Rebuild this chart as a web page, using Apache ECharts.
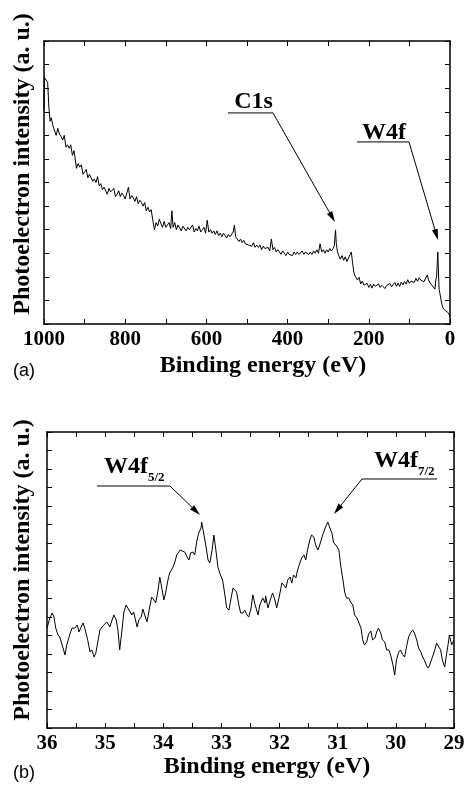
<!DOCTYPE html>
<html><head><meta charset="utf-8">
<script src="https://cdn.jsdelivr.net/npm/echarts@6/dist/echarts.min.js"></script>
<style>html,body{margin:0;padding:0;background:#fff}#c{width:469px;height:787px}</style>
</head><body><div id="c"></div>
<script>
// ---- (a) survey spectrum ----
const surveyEnergy = [1000,999,995,991,988,985,982,978,974,970,966,962,958,954,950,946,942,938,934,930,926,922,920,916,912,908,904,900,896,892,888,884,880,876,872,868,864,860,856,852,848,844,840,836,832,828,824,820,816,812,808,804,800,796,792,788,784,780,776,772,768,764,760,756,752,748,744,740,736,732,728,724,720,716,712,708,704,700,696,692,688,685,682,678,674,670,666,662,658,654,650,646,642,638,634,630,626,622,618,614,610,606,602,598,594,590,586,582,578,574,570,566,562,558,554,550,546,542,538,534,531,528,524,520,516,512,508,504,500,496,492,488,484,480,476,472,468,464,460,456,452,448,444,440,436,432,428,424,420,416,412,408,404,400,396,392,388,384,380,376,372,368,364,360,356,352,348,344,340,336,332,328,324,320,316,312,308,304,300,296,292,288,285,282,280,277,274,270,266,262,258,254,250,246,243,240,237,234,231,228,224,220,216,212,208,204,200,196,192,188,184,180,176,172,168,164,160,156,152,148,144,140,136,132,128,124,120,116,112,108,104,100,96,92,88,84,80,76,72,68,64,60,56,53,49,45,41,37,35,33,31,30,29,27,25,22,19,16,13,10,7,4,1,0];
const surveyIntensity = [91,104.5,105,102.5,92,86,
87.5,84,84.5,80,83,80.5,79.5,78,80,75,76,74.5,76,71.5,73.5,74,
66,
68,66.5,67.5,63.5,64.5,65.5,62,63.5,64,60.5,61.5,60,62.5,58.5,59.5,57,58,57.5,55,57.5,56,55.5,57.5,54,55,56.5,54,55.5,54.5,53,55.5,58,53,54.5,53.5,52,54,51,52.5,51.5,50,51.5,48,49.5,47.5,48.5,
44,40,
43,41.5,44.5,42.5,41,43.5,41,42,43,40.5,48,41,43,40,42,41.5,39.5,41.5,42,39.5,41,40,40.5,42,39,40.5,39.5,41.5,39,40,41,38.5,44,39,40,38.5,39.5,38,39.5,37.5,38.5,37,38.5,37.5,36.5,38,37,37.5,39,42,37,37.5,35,36,34.5,35.5,34,34.5,33.5,34,33,34.5,32.5,33.5,32.5,33.5,31.5,33,32,31.5,32.5,31,36,31.5,32.5,30.5,31.5,30.5,29.5,31,30,29,30.5,29.5,30,29,30.5,29.5,30.5,29.5,30,31,29.5,30.5,31,29.5,30.5,29.5,31,30,31.5,30,34,30.5,31.5,30,31.5,30.5,32,31,32,
33,39.9,34,30.5,29,27.5,29,27,28.5,26.5,28,29.5,30.5,26,22,20.4,20.8,
18.7,19.8,17,18.2,16.5,16,17.2,15.5,16.8,15.2,16.9,16,15.4,17,15.5,16.4,16.8,15,16.3,15.5,17.2,15.8,16.2,17.6,16,17.3,15.9,17.8,16.6,18,16.9,18.8,17.2,18.2,19,17.6,19.4,18.1,19.6,18.6,19.3,17.9,19.5,
20.8,18.7,17.4,16.5,17,14.8,18.7,20,27,30.5,25,14.8,13.1,10.2,7.6,6.4,5.9,5.5,5.1,4.7,4.2,3.4];
const surveyTickLabels = [1000, 800, 600, 400, 200, 0];

// ---- (b) W4f region ----
const w4fEnergy = [36.00,35.98,35.95,35.91,35.88,35.85,35.81,35.78,35.74,35.69,35.66,35.60,35.57,35.52,35.48,35.45,35.42,35.38,35.35,35.30,35.26,35.23,35.19,35.16,35.12,35.09,35.04,34.97,34.92,34.88,34.85,34.81,34.78,34.75,34.71,34.68,34.64,34.59,34.54,34.51,34.45,34.42,34.38,34.35,34.32,34.28,34.25,34.20,34.16,34.13,34.09,34.06,34.02,33.99,33.96,33.92,33.89,33.84,33.80,33.77,33.71,33.68,33.63,33.59,33.56,33.53,33.49,33.46,33.42,33.39,33.35,33.34,33.30,33.27,33.23,33.20,33.16,33.13,33.10,33.06,33.03,32.98,32.94,32.91,32.87,32.84,32.80,32.77,32.74,32.70,32.67,32.63,32.60,32.56,32.53,32.49,32.46,32.42,32.37,32.34,32.29,32.25,32.24,32.20,32.15,32.12,32.08,32.05,32.01,31.96,31.93,31.89,31.86,31.82,31.79,31.76,31.72,31.69,31.65,31.62,31.58,31.55,31.52,31.48,31.45,31.41,31.38,31.34,31.31,31.27,31.24,31.21,31.17,31.14,31.10,31.07,31.03,30.98,30.95,30.91,30.88,30.85,30.81,30.78,30.74,30.71,30.67,30.64,30.60,30.57,30.54,30.50,30.47,30.43,30.40,30.36,30.33,30.30,30.26,30.23,30.19,30.16,30.12,30.09,30.05,30.02,29.99,29.95,29.92,29.88,29.85,29.81,29.78,29.75,29.71,29.68,29.64,29.61,29.57,29.54,29.51,29.47,29.44,29.40,29.37,29.33,29.30,29.27,29.23,29.20,29.16,29.13,29.09,29.08,29.04,29.00];
const w4fIntensity = [54.0,53.0,59.5,62.2,60.0,54.0,50.3,49.2,44.9,39.5,44.9,51.3,54.0,54.0,55.7,51.9,54.0,56.8,54.0,47.6,41.1,42.2,38.4,40.5,47.6,53.0,55.1,57.3,54.6,58.4,61.1,58.4,53.0,42.2,53.0,62.2,66.5,63.8,61.1,62.7,54.6,58.4,60.0,64.3,61.1,57.3,62.7,70.8,69.2,67.6,74.6,81.6,74.6,69.2,73.0,80.0,83.8,86.5,89.7,93.5,96.2,96.2,95.1,92.4,90.8,94.6,95.1,93.5,101.6,105.4,108.1,111.3,104.3,98.9,90.8,89.2,96.2,104.3,97.3,87.0,83.8,80.0,71.9,64.9,63.8,69.2,75.7,75.7,73.5,66.5,62.2,62.2,63.8,61.1,60.0,64.9,72.0,66.5,61.1,66.5,70.3,67.6,71.4,64.9,70.3,73.0,69.2,64.9,70.3,78.4,77.3,75.7,80.0,81.6,78.4,82.7,81.1,85.4,89.2,91.9,93.5,90.8,96.2,101.6,104.3,103.2,98.9,96.2,98.9,103.2,105.9,108.6,111.3,108.6,105.4,100.0,98.9,96.2,88.1,80.0,73.5,70.3,70.3,68.1,66.5,61.1,59.5,57.3,54.0,47.6,44.9,46.5,50.8,52.4,47.6,48.6,51.9,54.0,51.3,47.6,46.5,42.2,42.2,39.5,34.1,28.6,36.8,41.1,42.2,39.5,38.4,44.9,49.2,51.3,53.0,51.3,47.6,43.2,41.1,38.4,36.8,33.5,32.4,35.7,38.4,42.2,45.9,44.9,42.2,36.8,33.0,39.5,47.6,50.3,44.9,47.6];
const w4fTickLabels = [36, 35, 34, 33, 32, 31, 30, 29];

const texts = {
  xTitle: 'Binding energy (eV)',
  yTitle: 'Photoelectron intensity (a. u.)',
  panelA: '(a)', panelB: '(b)',
  c1s: 'C1s', w4f: 'W4f', w4f52: ['W4f', '5/2'], w4f72: ['W4f', '7/2']
};

const SERIF = '"Liberation Serif", "Times New Roman", serif';
const chart = echarts.init(document.getElementById('c'), null, {renderer: 'canvas'});

function xAxis(grid, pos, min, max, interval, labels, showLabel) {
  return {
    type: 'value', gridIndex: grid, position: pos, min: min, max: max, interval: interval, inverse: true,
    axisLine: {show: true, onZero: false, lineStyle: {color: '#000', width: 1.5}},
    axisTick: {show: true, inside: true, length: 5, lineStyle: {color: '#000', width: 1}},
    minorTick: {show: true, splitNumber: 2, length: 5, lineStyle: {color: '#000', width: 1}},
    splitLine: {show: false}, minorSplitLine: {show: false},
    axisLabel: {show: showLabel, showMinLabel: true, showMaxLabel: true, margin: 5, color: '#000',
      fontFamily: SERIF, fontWeight: 'bold', fontSize: 21,
      formatter: function (v) { return labels.indexOf(Math.round(v)) >= 0 ? String(Math.round(v)) : ''; }}
  };
}
function yAxis(grid, pos, max) {
  return {
    type: 'value', gridIndex: grid, position: pos, min: 0, max: max, interval: 10,
    axisLine: {show: true, onZero: false, lineStyle: {color: '#000', width: 1.5}},
    axisTick: {show: true, inside: true, length: 5, lineStyle: {color: '#000', width: 1}},
    splitLine: {show: false}, axisLabel: {show: false}
  };
}

const surveyData = surveyEnergy.map((e, i) => [e, surveyIntensity[i]]);
const w4fData = w4fEnergy.map((e, i) => [e, w4fIntensity[i]]);

chart.setOption({
  animation: false,
  backgroundColor: '#fff',
  grid: [
    {left: 44, top: 41, width: 406, height: 283},
    {left: 47, top: 432, width: 407, height: 296}
  ],
  xAxis: [
    xAxis(0, 'bottom', 0, 1000, 200, surveyTickLabels, true),
    xAxis(0, 'top', 0, 1000, 200, surveyTickLabels, false),
    xAxis(1, 'bottom', 29, 36, 1, w4fTickLabels, true),
    xAxis(1, 'top', 29, 36, 1, w4fTickLabels, false)
  ],
  yAxis: [
    yAxis(0, 'left', 120), yAxis(0, 'right', 120),
    yAxis(1, 'left', 160), yAxis(1, 'right', 160)
  ],
  series: [
    {type: 'line', xAxisIndex: 0, yAxisIndex: 0, data: surveyData, showSymbol: false, symbol: 'none',
      lineStyle: {color: '#000', width: 1}, silent: true},
    {type: 'line', xAxisIndex: 2, yAxisIndex: 2, data: w4fData, showSymbol: false, symbol: 'none',
      lineStyle: {color: '#000', width: 1}, silent: true}
  ]
});

// annotation anchors in data coordinates [energy, intensity]
const annA = [
  {label: texts.c1s, text: [484, 94.3], line: [[546.8, 89.5], [436, 89.5]], tip: [283.3, 43.2]},
  {label: texts.w4f, text: [162.6, 81.2], line: [[229.1, 77.2], [101, 77.2]], tip: [29.6, 35.6]}
];
const annB = [
  {label: texts.w4f52, text: [34.263, 141.3], sub: [34.263, 135.1], line: [[35.14, 130.8], [33.884, 130.8]], tip: [33.368, 115.1]},
  {label: texts.w4f72, text: [29.619, 144.6], sub: [29.619, 138.4], line: [[29.292, 134.6], [30.582, 134.6]], tip: [31.064, 115.7]}
];

const g = [];
function px(finder, p) { return chart.convertToPixel(finder, p); }
function arrow(s, t) {
  const dx = t[0] - s[0], dy = t[1] - s[1];
  const L = Math.sqrt(dx * dx + dy * dy), ux = dx / L, uy = dy / L;
  const hl = 11, hw = 3;
  const bx = t[0] - ux * hl, by = t[1] - uy * hl;
  g.push({type: 'line', shape: {x1: s[0], y1: s[1], x2: bx + ux * 2, y2: by + uy * 2}, style: {stroke: '#000', lineWidth: 1}, silent: true});
  g.push({type: 'polygon', shape: {points: [[t[0], t[1]], [bx - uy * hw, by + ux * hw], [bx + uy * hw, by - ux * hw]]}, style: {fill: '#000'}, silent: true});
}
const fA = {xAxisIndex: 0, yAxisIndex: 0}, fB = {xAxisIndex: 2, yAxisIndex: 2};
annA.forEach(a => {
  const tp = px(fA, a.text);
  g.push({type: 'text', x: tp[0], y: tp[1], silent: true,
    style: {text: a.label, fill: '#000', font: 'bold 24px ' + SERIF, align: 'center', verticalAlign: 'middle'}});
  const p1 = px(fA, a.line[0]), p2 = px(fA, a.line[1]);
  g.push({type: 'line', shape: {x1: p1[0], y1: p1[1], x2: p2[0], y2: p2[1]}, style: {stroke: '#000', lineWidth: 1}, silent: true});
  arrow(p2, px(fA, a.tip));
});
annB.forEach(a => {
  const tp = px(fB, a.text), sp = px(fB, a.sub);
  g.push({type: 'text', x: tp[0], y: tp[1], silent: true,
    style: {text: a.label[0], fill: '#000', font: 'bold 24px ' + SERIF, align: 'right', verticalAlign: 'middle'}});
  g.push({type: 'text', x: sp[0], y: sp[1], silent: true,
    style: {text: a.label[1], fill: '#000', font: 'bold 13px ' + SERIF, align: 'left', verticalAlign: 'middle'}});
  const p1 = px(fB, a.line[0]), p2 = px(fB, a.line[1]);
  g.push({type: 'line', shape: {x1: p1[0], y1: p1[1], x2: p2[0], y2: p2[1]}, style: {stroke: '#000', lineWidth: 1}, silent: true});
  arrow(p2, px(fB, a.tip));
});

// axis titles and panel labels
function title(x, y, text, rot) {
  g.push({type: 'text', x: x, y: y, rotation: rot || 0, silent: true,
    style: {text: text, fill: '#000', font: 'bold 24px ' + SERIF, align: 'center', verticalAlign: 'middle'}});
}
title(263, 366, texts.xTitle);
title(267, 767, texts.xTitle);
title(23, 164, texts.yTitle, Math.PI / 2);
title(23, 570, texts.yTitle, Math.PI / 2);
g.push({type: 'text', x: 24, y: 371, silent: true, style: {text: texts.panelA, fill: '#000', font: '18px "Liberation Sans", Arial, sans-serif', align: 'center', verticalAlign: 'middle'}});
g.push({type: 'text', x: 24, y: 773, silent: true, style: {text: texts.panelB, fill: '#000', font: '18px "Liberation Sans", Arial, sans-serif', align: 'center', verticalAlign: 'middle'}});

chart.setOption({graphic: g});
</script>
</body></html>
